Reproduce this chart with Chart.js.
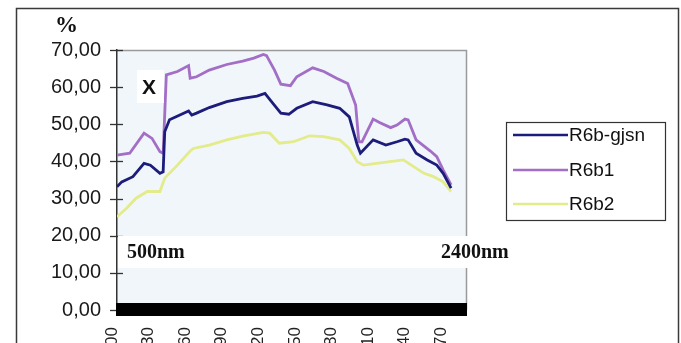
<!DOCTYPE html>
<html>
<head>
<meta charset="utf-8">
<script src="https://cdn.jsdelivr.net/npm/chart.js@4.4.1/dist/chart.umd.min.js"></script>
<style>
html,body{margin:0;padding:0;background:#fff;overflow:hidden;}
canvas{display:block;}
</style>
</head>
<body>
<canvas id="c" width="681" height="343"></canvas>
<script>
// ---- data ----
const seriesNames = ['R6b-gjsn', 'R6b1', 'R6b2'];
const seriesColors = ['#1c1c7a', '#a26ec6', '#e3eb8a'];

const gjsnNm  = [400,430,500,570,610,670,690,700,730,850,870,900,980,1090,1190,1280,1330,1380,1430,1480,1530,1630,1720,1800,1860,1910,1930,2010,2090,2160,2210,2230,2280,2350,2410,2450,2500];
const gjsnVal = [33.2,34.5,35.9,39.5,39.0,36.8,37.2,48.0,51.2,53.6,52.5,53.0,54.5,56.1,57.0,57.6,58.3,55.6,53.0,52.7,54.3,56.1,55.2,54.3,52.0,44.4,42.2,45.8,44.4,45.3,46.0,45.8,42.2,40.4,39.0,36.8,32.8];

const b1Nm  = [400,480,570,620,670,690,710,780,850,860,900,980,1090,1190,1260,1320,1340,1390,1430,1490,1530,1630,1700,1780,1850,1900,1920,1940,2010,2050,2120,2160,2210,2230,2280,2370,2410,2450,2500];
const b1Val = [41.7,42.2,47.6,46.2,42.6,42.2,63.3,64.2,65.8,62.4,62.8,64.6,66.1,67.0,67.8,68.8,68.5,64.6,60.8,60.4,62.8,65.2,64.2,62.4,61.0,55.2,45.3,45.3,51.4,50.5,49.1,49.8,51.4,51.2,45.8,42.8,41.3,37.7,33.7];

const b2Nm  = [400,460,520,590,650,670,700,780,860,880,980,1090,1190,1320,1360,1420,1510,1610,1700,1800,1860,1910,1950,2030,2200,2250,2330,2390,2450,2500];
const b2Val = [25.1,27.4,30.1,31.9,31.9,31.9,35.5,39.0,42.8,43.5,44.4,45.8,46.8,47.8,47.6,44.9,45.3,46.9,46.7,45.8,43.5,39.9,39.0,39.5,40.4,39.0,36.8,35.9,34.5,31.9];

const xTickValues = [400,630,860,1090,1320,1550,1780,2010,2240,2470];
const xTickLabels = ['400','630','860','1090','1320','1550','1780','2010','2240','2470'];
const yTickValues = [0,10,20,30,40,50,60,70];
const yTickLabels = ['0,00','10,00','20,00','30,00','40,00','50,00','60,00','70,00'];

const toPts = (xs, ys) => xs.map((x, i) => ({x: x, y: ys[i]}));

const decor = {
  id: 'decor',
  beforeDraw(chart) {
    const ctx = chart.ctx, a = chart.chartArea;
    ctx.save();
    ctx.fillStyle = '#ffffff';
    ctx.fillRect(0, 0, chart.width, chart.height);
    // outer border
    ctx.strokeStyle = '#3a3a3a';
    ctx.lineWidth = 1.5;
    ctx.strokeRect(16.5, 8.5, 662, 400);
    // plot background
    ctx.fillStyle = '#f1f6fb';
    ctx.fillRect(a.left, a.top, a.right - a.left, a.bottom - a.top);
    // top & right border
    ctx.strokeStyle = '#9a9a9a';
    ctx.lineWidth = 1.5;
    ctx.beginPath();
    ctx.moveTo(a.left, a.top + 0.5);
    ctx.lineTo(a.right - 0.5, a.top + 0.5);
    ctx.lineTo(a.right - 0.5, a.bottom);
    ctx.stroke();
    ctx.restore();
  },
  afterDraw(chart) {
    const ctx = chart.ctx, a = chart.chartArea;
    const ys = chart.scales.y;
    ctx.save();
    // y tick crosses
    ctx.strokeStyle = '#333';
    ctx.lineWidth = 1.3;
    yTickValues.forEach(v => {
      const py = Math.round(ys.getPixelForValue(v)) + 0.5;
      ctx.beginPath();
      ctx.moveTo(a.left - 7, py);
      ctx.lineTo(a.left + 6, py);
      ctx.stroke();
    });
    // black bar at zero
    const y0 = ys.getPixelForValue(0);
    ctx.fillStyle = '#000';
    ctx.fillRect(a.left - 1, y0 - 7, a.right - a.left + 1, 13);
    // white band with annotations
    ctx.fillStyle = '#ffffff';
    ctx.fillRect(a.left + 1, 236, 400, 32);
    ctx.fillStyle = '#111';
    ctx.font = 'bold 20px "Liberation Serif", "Times New Roman", serif';
    ctx.textBaseline = 'alphabetic';
    ctx.textAlign = 'left';
    ctx.fillText('500nm', 127, 258);
    ctx.fillText('2400nm', 441, 258);
    // X marker
    ctx.fillStyle = '#ffffff';
    ctx.fillRect(137, 70, 27, 33);
    ctx.fillStyle = '#111';
    ctx.font = 'bold 21px "Liberation Sans", Arial, sans-serif';
    ctx.fillText('X', 142, 94);
    // percent
    ctx.font = 'bold 23px "Liberation Serif", "Times New Roman", serif';
    ctx.fillText('%', 55, 32);
    // legend
    ctx.strokeStyle = '#333';
    ctx.lineWidth = 1.2;
    ctx.strokeRect(506.5, 122.5, 159, 98);
    ctx.font = '19px "Liberation Sans", Arial, sans-serif';
    ctx.textBaseline = 'middle';
    const ly = [135, 170, 204];
    chart.data.datasets.forEach((ds, i) => {
      ctx.strokeStyle = ds.borderColor;
      ctx.lineWidth = 2.5;
      ctx.beginPath();
      ctx.moveTo(513, ly[i]);
      ctx.lineTo(568, ly[i]);
      ctx.stroke();
      ctx.fillStyle = '#111';
      ctx.fillText(ds.label, 569, ly[i] + 1);
    });
    ctx.restore();
  }
};

new Chart(document.getElementById('c'), {
  type: 'line',
  data: {
    datasets: [
      {label: seriesNames[0], data: toPts(gjsnNm, gjsnVal), borderColor: seriesColors[0], borderWidth: 2.8},
      {label: seriesNames[1], data: toPts(b1Nm, b1Val), borderColor: seriesColors[1], borderWidth: 2.8},
      {label: seriesNames[2], data: toPts(b2Nm, b2Val), borderColor: seriesColors[2], borderWidth: 2.8}
    ]
  },
  options: {
    responsive: false,
    animation: false,
    devicePixelRatio: 1,
    events: [],
    elements: {point: {radius: 0}, line: {tension: 0, fill: false}},
    layout: {padding: {left: 0, top: 50, right: 214, bottom: 0}},
    plugins: {legend: {display: false}, tooltip: {enabled: false}},
    scales: {
      x: {
        type: 'linear',
        min: 400,
        max: 2600,
        afterBuildTicks: s => { s.ticks = xTickValues.map(v => ({value: v})); },
        afterFit: s => { s.height = 33; },
        grid: {display: false, drawTicks: false, tickLength: 0},
        border: {display: false},
        ticks: {
          autoSkip: false,
          minRotation: 90,
          maxRotation: 90,
          padding: 17,
          labelOffset: -5,
          color: '#222',
          font: {family: '"Liberation Sans", Arial, sans-serif', size: 17},
          callback: (v, i) => xTickLabels[i]
        }
      },
      y: {
        min: 0,
        max: 70,
        afterBuildTicks: s => { s.ticks = yTickValues.map(v => ({value: v})); },
        afterFit: s => { s.width = 117; },
        grid: {display: false, drawTicks: false, tickLength: 0},
        border: {display: true, color: '#333', width: 1.5},
        ticks: {
          padding: 16,
          color: '#1a1a1a',
          font: {family: '"Liberation Sans", Arial, sans-serif', size: 20},
          callback: (v, i) => yTickLabels[i]
        }
      }
    }
  },
  plugins: [decor]
});
</script>
</body>
</html>
